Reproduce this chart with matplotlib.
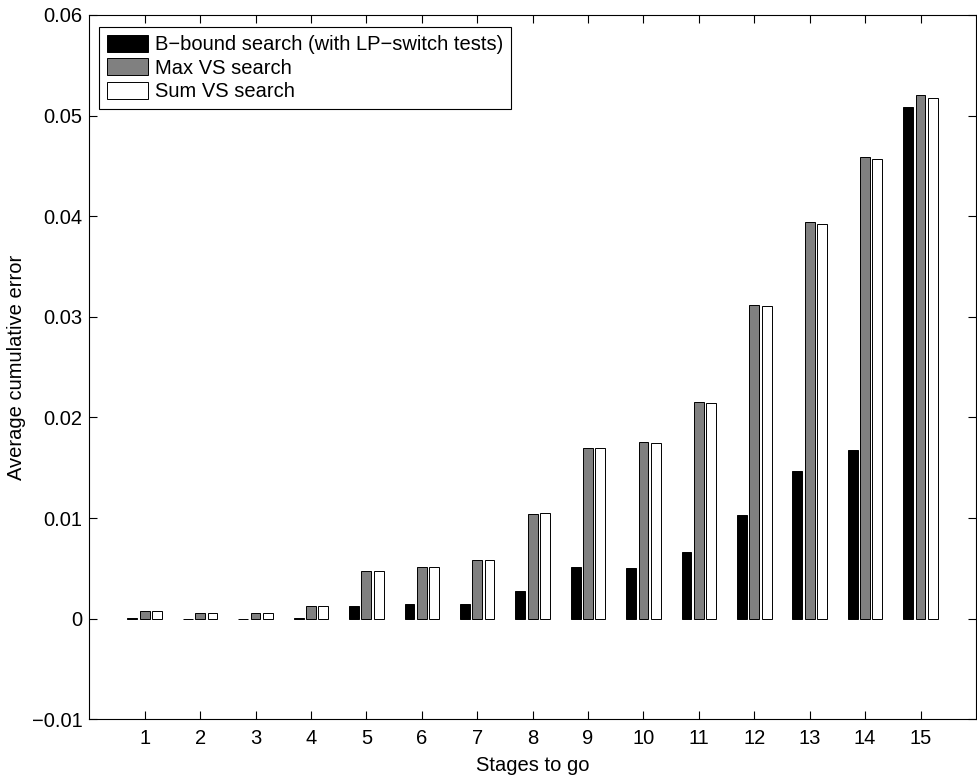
import numpy as np
import matplotlib
matplotlib.use("Agg")
import matplotlib.pyplot as plt

plt.rcParams["font.family"] = ["Liberation Sans", "DejaVu Sans"]
plt.rcParams["font.size"] = 14.5

stages = list(range(1, 16))
bbound = [0.00003, -0.00005, -0.00005, 0.00003, 0.0013, 0.0015, 0.0015, 0.0028,
          0.0051, 0.0050, 0.0066, 0.0103, 0.0147, 0.0168, 0.0509]
max_vs = [0.0008, 0.00057, 0.00057, 0.00122, 0.0047, 0.0051, 0.0058, 0.0104,
          0.0170, 0.0176, 0.0215, 0.0312, 0.0394, 0.0459, 0.0520]
sum_vs = [0.0008, 0.00057, 0.00057, 0.00122, 0.0047, 0.0051, 0.0058, 0.0105,
          0.0170, 0.0175, 0.0214, 0.0311, 0.0392, 0.0457, 0.0517]
series_names = ["B\u2212bound search (with LP\u2212switch tests)", "Max VS search", "Sum VS search"]
yticks = [-0.01, 0, 0.01, 0.02, 0.03, 0.04, 0.05, 0.06]
ytick_labels = ["\u22120.01", "0", "0.01", "0.02", "0.03", "0.04", "0.05", "0.06"]

fig = plt.figure(figsize=(9.77, 7.76), dpi=100)
ax = fig.add_axes([0.0914, 0.073, 0.9075, 0.9077])

# matlab-style grouped bars
x = np.array(stages)
group_w = 3 / 4.5
offset = group_w / 3
bar_w = offset * 0.8
colors = ["black", "#808080", "white"]
for i, (vals, col) in enumerate(zip([bbound, max_vs, sum_vs], colors)):
    ax.bar(x + (i - 1) * offset, vals, width=bar_w, color=col, edgecolor="black",
           linewidth=0.7, label=series_names[i])

ax.set_xlim(0, 16)
ax.set_ylim(-0.01, 0.06)
ax.set_xticks(stages)
ax.set_yticks(yticks)
ax.set_yticklabels(ytick_labels)
ax.tick_params(direction="in", top=True, right=True, length=6, width=0.8, pad=5)
ax.tick_params(axis="x", pad=7)
for sp in ax.spines.values():
    sp.set_linewidth(0.8)

ax.set_xlabel("Stages to go", labelpad=6)
ax.set_ylabel("Average cumulative error", labelpad=4)

leg = ax.legend(loc="upper left", bbox_to_anchor=(0.0113, 0.9832), borderaxespad=0,
                fancybox=False, edgecolor="black", framealpha=1, handlelength=2.0,
                handleheight=0.93, handletextpad=0.35, labelspacing=0.2, borderpad=0.4)
leg.get_frame().set_linewidth(0.8)

fig.savefig("out.png", dpi=100)
